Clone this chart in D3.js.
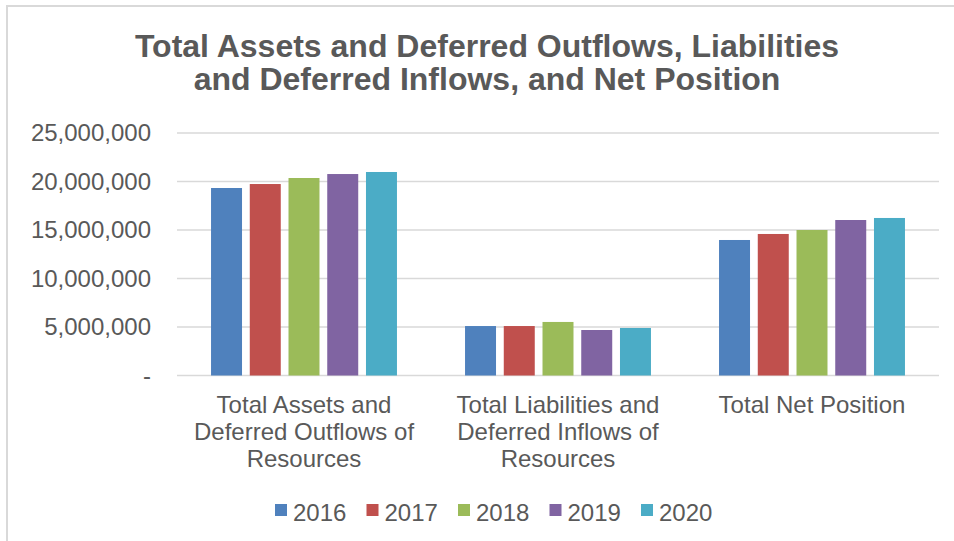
<!DOCTYPE html>
<html>
  <meta charset="utf-8">
  <head>
    <title>Total Assets, Liabilities and Net Position</title>
  </head>
  <style>
    body { margin: 0; background: #fff; }
    text { font-family: "Liberation Sans", Arial, sans-serif; fill: #595959; }
    .grid line { stroke: #d9d9d9; stroke-width: 1.5; }
  </style>
  <script src="https://d3js.org/d3.v7.min.js"></script>
  <body>
    <svg width="954" height="541"></svg>

    <script>
      // data
      var categories = [
        ["Total Assets and", "Deferred Outflows of", "Resources"],
        ["Total Liabilities and", "Deferred Inflows of", "Resources"],
        ["Total Net Position"]
      ];
      var years = ["2016", "2017", "2018", "2019", "2020"];
      var colors = ["#4f81bd", "#c0504d", "#9bbb59", "#8064a2", "#4bacc6"];
      var assets      = [19330000, 19740000, 20360000, 20770000, 20980000];
      var liabilities = [5100000, 5100000, 5520000, 4690000, 4900000];
      var netPosition = [13970000, 14590000, 15000000, 16030000, 16240000];
      var yTicks = [0, 5000000, 10000000, 15000000, 20000000, 25000000];
      var titleLines = ["Total Assets and Deferred Outflows, Liabilities",
                        "and Deferred Inflows, and Net Position"];

      var series = [assets, liabilities, netPosition];

      var svg = d3.select("svg");

      // chart border (only top/left visible in the crop)
      svg.append("rect")
          .attr("x", 7).attr("y", 6)
          .attr("width", 1000).attr("height", 600)
          .attr("fill", "none")
          .attr("stroke", "#d9d9d9")
          .attr("stroke-width", 2);

      svg.selectAll(".title")
        .data(titleLines)
        .enter().append("text")
          .attr("class", "title")
          .attr("x", 487)
          .attr("y", function(d, i) { return 57 + i * 33; })
          .attr("text-anchor", "middle")
          .attr("font-size", 32)
          .attr("font-weight", "bold")
          .text(function(d) { return d; });

      var x = d3.scaleBand()
          .domain(d3.range(categories.length))
          .range([177, 939])
          .paddingInner(0.268)
          .paddingOuter(0.134);

      var x1 = d3.scaleBand()
          .domain(years)
          .range([0, x.bandwidth()])
          .paddingInner(0.2);

      var y = d3.scaleLinear()
          .domain([0, 25000000])
          .range([375.5, 133]);

      var fmt = d3.format(",");

      svg.append("g")
          .attr("class", "grid")
          .selectAll("line")
          .data(yTicks)
          .enter().append("line")
            .attr("x1", 177)
            .attr("x2", 939)
            .attr("y1", function(d) { return y(d); })
            .attr("y2", function(d) { return y(d); });

      svg.append("g")
          .selectAll("text")
          .data(yTicks)
          .enter().append("text")
            .attr("x", 151)
            .attr("y", function(d) { return y(d) + 8; })
            .attr("text-anchor", "end")
            .attr("font-size", 24)
            .text(function(d) { return d === 0 ? "-" : fmt(d); });

      var groups = svg.append("g")
          .selectAll("g")
          .data(series)
          .enter().append("g")
            .attr("transform", function(d, i) { return "translate(" + x(i) + ",0)"; });

      groups.selectAll("rect")
        .data(function(d) { return d; })
        .enter().append("rect")
          .attr("x", function(d, i) { return x1(years[i]); })
          .attr("y", function(d) { return y(d); })
          .attr("width", x1.bandwidth())
          .attr("height", function(d) { return y(0) - y(d); })
          .attr("fill", function(d, i) { return colors[i]; });

      // category labels
      svg.append("g")
          .selectAll("text")
          .data(categories)
          .enter().append("text")
            .attr("text-anchor", "middle")
            .attr("font-size", 24)
            .each(function(lines, i) {
              d3.select(this).selectAll("tspan")
                .data(lines)
                .enter().append("tspan")
                  .attr("x", x(i) + x.bandwidth() / 2)
                  .attr("y", function(d, j) { return 413 + j * 27; })
                  .text(function(d) { return d; });
            });

      // legend
      var legend = svg.append("g")
          .selectAll("g")
          .data(years)
          .enter().append("g")
            .attr("transform", function(d, i) { return "translate(" + (275 + i * 91.5) + ",504)"; });

      legend.append("rect")
          .attr("width", 12)
          .attr("height", 12)
          .attr("fill", function(d, i) { return colors[i]; });

      legend.append("text")
          .attr("x", 18)
          .attr("y", 17)
          .attr("font-size", 24)
          .text(function(d) { return d; });
    </script>
  </body>
</html>
